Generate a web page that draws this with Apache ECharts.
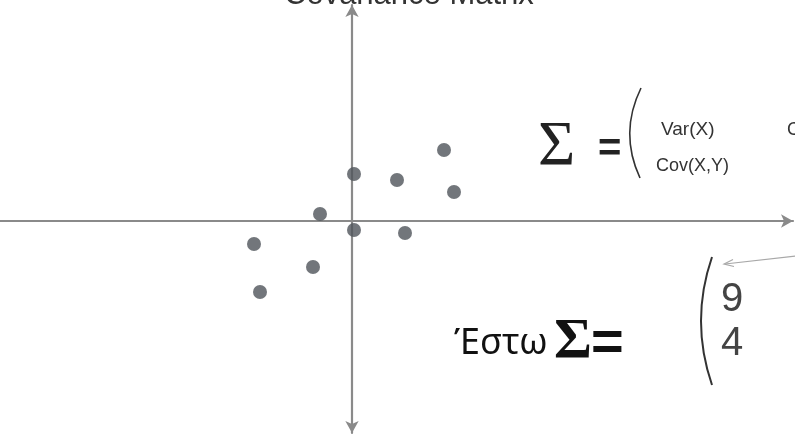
<!DOCTYPE html>
<html>
<head>
<meta charset="utf-8">
<script src="https://cdn.jsdelivr.net/npm/echarts@6/dist/echarts.min.js"></script>
<style>
  html, body { margin: 0; padding: 0; background: #ffffff; }
  #chart { width: 795px; height: 440px; }
</style>
</head>
<body>
<div id="chart"></div>
<script>
// Sample points (x, y) around the origin, positively correlated
const pointsX = [0.2, 4.5, 9.2, 10.2, -3.2, 0.2, 5.3, -9.8, -3.9, -9.2];
const pointsY = [4.7, 4.1, 7.1, 2.9, 0.7, -0.9, -1.2, -2.3, -4.6, -7.1];

// Axis extents (origin sits where both axes cross)
const xRange = [-35.2, 44.1];
const yRange = [-21.2, 21.6];

// Matrix entries shown in the example
const titleText = 'Covariance Matrix';
const matrixEntries = ['Var(X)', 'Cov(X,Y)', 'Cov(X,Y)'];
const exampleEntries = ['9', '4'];
const exampleLabel = 'Έστω';

const chart = echarts.init(document.getElementById('chart'), null, { renderer: 'canvas' });

const axisColor = '#8a8a8a';
const inkColor = '#333333';

const option = {
  backgroundColor: '#ffffff',
  animation: false,
  grid: { left: 0, right: 2, top: 5, bottom: 7 },
  xAxis: {
    type: 'value',
    min: xRange[0],
    max: xRange[1],
    axisLine: {
      show: true,
      onZero: true,
      symbol: ['none', 'arrow'],
      symbolSize: [10, 12],
      lineStyle: { color: axisColor, width: 2.2 }
    },
    axisTick: { show: false },
    axisLabel: { show: false },
    splitLine: { show: false }
  },
  yAxis: {
    type: 'value',
    min: yRange[0],
    max: yRange[1],
    axisLine: {
      show: true,
      onZero: true,
      symbol: ['arrow', 'arrow'],
      symbolSize: [10, 12],
      lineStyle: { color: axisColor, width: 2.2 }
    },
    axisTick: { show: false },
    axisLabel: { show: false },
    splitLine: { show: false }
  },
  series: [{
    type: 'scatter',
    symbol: 'circle',
    symbolSize: 14,
    itemStyle: { color: '#4f545a' },
    data: pointsX.map((x, i) => [x, pointsY[i]]),
    z: 5
  }],
  graphic: [
    // Slide title, mostly above the visible area
    {
      type: 'text', left: 284, top: -20,
      style: { text: titleText, font: '31px "Liberation Sans", Arial, sans-serif', fill: inkColor }
    },
    // Σ = ( Var(X) ... Cov(X,Y) ... )
    {
      type: 'text', x: 538, y: 148,
      style: { text: 'Σ', font: '64px "Liberation Serif", "DejaVu Serif", serif', fill: '#222', verticalAlign: 'middle' }
    },
    {
      type: 'text', x: 598, y: 150,
      style: { text: '=', font: 'bold 40px "Liberation Sans", Arial, sans-serif', fill: '#222', verticalAlign: 'middle' }
    },
    {
      type: 'bezierCurve',
      shape: { x1: 641, y1: 88, cpx1: 619, cpy1: 133, x2: 640, y2: 178 },
      style: { stroke: inkColor, lineWidth: 1.6, fill: null }
    },
    {
      type: 'text', x: 661, y: 130,
      style: { text: matrixEntries[0], font: '19px "Liberation Sans", Arial, sans-serif', fill: inkColor, verticalAlign: 'middle' }
    },
    {
      type: 'text', x: 656, y: 166,
      style: { text: matrixEntries[1], font: '18px "Liberation Sans", Arial, sans-serif', fill: inkColor, verticalAlign: 'middle' }
    },
    {
      type: 'text', x: 787, y: 130,
      style: { text: matrixEntries[2], font: '18px "Liberation Sans", Arial, sans-serif', fill: inkColor, verticalAlign: 'middle' }
    },
    // Έστω Σ = ( 9 ... 4 ... )
    {
      type: 'text', x: 454, y: 344,
      style: { text: exampleLabel, font: '36px "Noto Sans", "DejaVu Sans", sans-serif', fill: '#111', verticalAlign: 'middle' }
    },
    {
      type: 'text', x: 554, y: 343,
      style: { text: 'Σ', font: 'bold 58px "Liberation Serif", "DejaVu Serif", serif', fill: '#111', verticalAlign: 'middle' }
    },
    {
      type: 'text', x: 591, y: 345,
      style: { text: '=', font: 'bold 56px "Liberation Sans", Arial, sans-serif', fill: '#111', verticalAlign: 'middle' }
    },
    {
      type: 'bezierCurve',
      shape: { x1: 712, y1: 257, cpx1: 690, cpy1: 321, x2: 712, y2: 385 },
      style: { stroke: '#333', lineWidth: 2, fill: null }
    },
    {
      type: 'text', x: 721, y: 300,
      style: { text: exampleEntries[0], font: '40px "Liberation Sans", Arial, sans-serif', fill: '#444', verticalAlign: 'middle' }
    },
    {
      type: 'text', x: 721, y: 344,
      style: { text: exampleEntries[1], font: '40px "Liberation Sans", Arial, sans-serif', fill: '#444', verticalAlign: 'middle' }
    },
    // Pointer towards the first entry
    {
      type: 'line',
      shape: { x1: 796, y1: 256, x2: 725, y2: 264 },
      style: { stroke: '#a8a8a8', lineWidth: 1.2 }
    },
    {
      type: 'polyline',
      shape: { points: [[733, 259.5], [724, 264], [734, 266.5]] },
      style: { stroke: '#a8a8a8', lineWidth: 1.2, fill: null }
    }
  ]
};

chart.setOption(option);
</script>
</body>
</html>
